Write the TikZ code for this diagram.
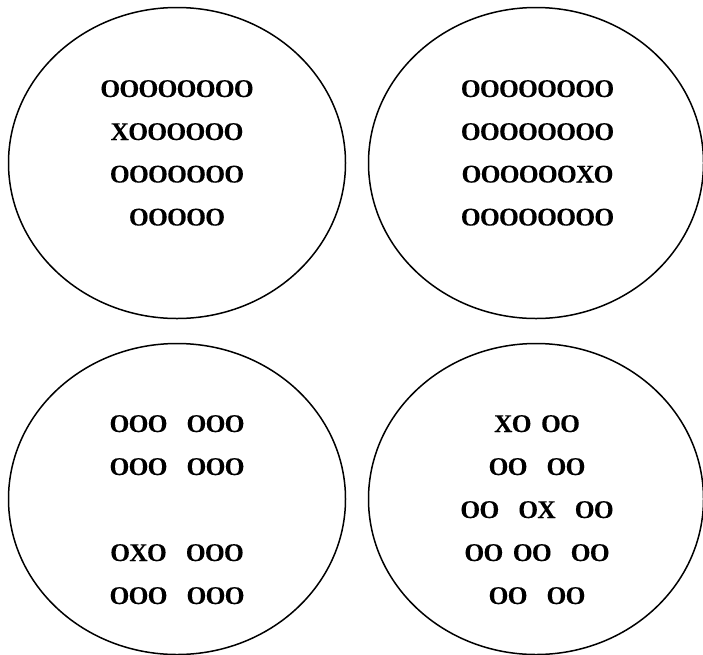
\documentclass[tikz,border=0pt]{standalone}
\usepackage{fontspec}
\setmainfont{Liberation Serif}
% slightly heavier strokes for the letter rows, tracked a little tighter
\newfontfamily\seqfont[FakeBold=0.1,LetterSpace=-3]{Liberation Serif}
\begin{document}
\begin{tikzpicture}[x=1pt,y=-1pt,
  region/.style={draw=black,line width=1.5pt},
  seq/.style={anchor=base,inner sep=0pt,font=\seqfont\bfseries\fontsize{25.5pt}{30pt}\selectfont}]
\useasboundingbox (0,0) rectangle (703,654);
\clip (0,0) rectangle (703,654);
\newcommand{\gapS}{\hspace{9.5pt}}
\newcommand{\gapL}{\hspace{19pt}}

% four regions
\draw[region] (177,163) ellipse [x radius=168.5, y radius=155.5];
\draw[region] (536,163) ellipse [x radius=167.5, y radius=155.5];
\draw[region] (177,499) ellipse [x radius=168.5, y radius=155.5];
\draw[region] (536,499) ellipse [x radius=167.5, y radius=155.5];

% upper left
\node[seq] (a1) at (177,97)    {OOOOOOOO};
\node[seq] (a2) at (177,140)   {XOOOOOO};
\node[seq] (a3) at (177,182.5) {OOOOOOO};
\node[seq] (a4) at (177,225.5) {OOOOO};

% upper right
\node[seq] (b1) at (537.5,97)    {OOOOOOOO};
\node[seq] (b2) at (537.5,140)   {OOOOOOOO};
\node[seq] (b3) at (537.5,182.5) {OOOOOOXO};
\node[seq] (b4) at (537.5,225.5) {OOOOOOOO};

% lower left
\node[seq] (c1) at (177,432) {OOO\gapL OOO};
\node[seq] (c2) at (177,475) {OOO\gapL OOO};
\node[seq] (c3) at (177,561) {OXO\gapL OOO};
\node[seq] (c4) at (177,604) {OOO\gapL OOO};

% lower right
\node[seq] (d1) at (537,432) {XO\gapS OO};
\node[seq] (d2) at (537,475) {OO\gapL OO};
\node[seq] (d3) at (537,518) {OO\gapL OX\gapL OO};
\node[seq] (d4) at (537,561) {OO\gapS OO\gapL OO};
\node[seq] (d5) at (537,604) {OO\gapL OO};
\end{tikzpicture}
\end{document}
